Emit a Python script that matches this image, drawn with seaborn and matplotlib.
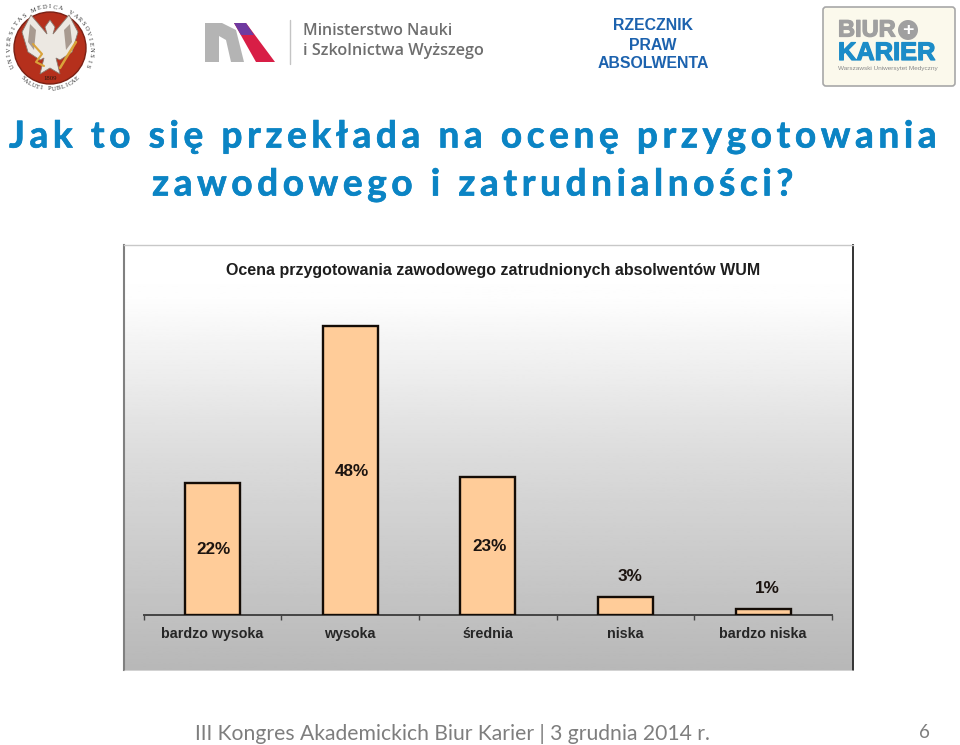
import numpy as np
import matplotlib
matplotlib.use("Agg")
import matplotlib.pyplot as plt
import matplotlib.patheffects as pe
from matplotlib.patches import Circle, Polygon, FancyBboxPatch
import seaborn as sns

categories = ["bardzo wysoka", "wysoka", "średnia", "niska", "bardzo niska"]
values = [22, 48, 23, 3, 1]
chart_title = "Ocena przygotowania zawodowego zatrudnionych absolwentów WUM"
title_lines = ["Jak to się przekłada na ocenę przygotowania", "zawodowego i zatrudnialności?"]
footer = "III Kongres Akademickich Biur Karier | 3 grudnia 2014 r."
page_no = "6"

W, H = 960, 745
sns.set_theme(style="white")
plt.rcParams["font.family"] = ["Liberation Sans", "DejaVu Sans"]
fig = plt.figure(figsize=(W / 100, H / 100), dpi=100, facecolor="white")

def px_axes(x0, y0, x1, y1, **kw):
    return fig.add_axes([x0 / W, 1 - y1 / H, (x1 - x0) / W, (y1 - y0) / H], **kw)

def heavy(w, col):
    return [pe.withStroke(linewidth=w, foreground=col)]

# page overlay in pixel coordinates
pg = fig.add_axes([0, 0, 1, 1], zorder=0)
pg.set_xlim(0, W); pg.set_ylim(H, 0); pg.axis("off")

# gradient panel
panel = px_axes(124, 245, 853, 670, zorder=1)
grad = np.interp(np.linspace(0, 1, 256), [0, 0.12, 0.5, 1], [1.0, 0.995, 0.86, 0.72])
panel.imshow(grad[:, None], cmap="gray", vmin=0, vmax=1, aspect="auto")
panel.set_xticks([]); panel.set_yticks([])
for side, col, lw in [("left", "#808080", 1.5), ("right", "#333333", 1.4),
                      ("top", "#c8c8c8", 1), ("bottom", "#c0c0c0", 0.5)]:
    panel.spines[side].set_visible(True)
    panel.spines[side].set_color(col)
    panel.spines[side].set_linewidth(lw)

# bar chart
ax = px_axes(143.5, 314, 832, 615, zorder=2)
ax.patch.set_alpha(0)
sns.barplot(x=categories, y=values, color="#FFCC99", saturation=1, width=0.4,
            edgecolor="#140c06", linewidth=1.7, ax=ax, zorder=3)
ax.set_xlim(-0.5, 4.5)
ax.set_ylim(0, 50)
ax.set_yticks([])
ax.set_xlabel(""); ax.set_ylabel("")
for s in ["top", "left", "right"]:
    ax.spines[s].set_visible(False)
ax.spines["bottom"].set_color("#444444")
ax.spines["bottom"].set_linewidth(1.4)
ax.set_xticks(range(len(categories)))
ax.set_xticklabels(categories, fontsize=10.3, fontweight="bold", color="#262626")
ax.set_xticks(np.arange(-0.5, 5), minor=True)
ax.tick_params(axis="x", which="major", length=0, pad=8.5)
ax.tick_params(axis="x", which="minor", length=3.5, width=1, color="#444444", direction="out", bottom=True)
for i, v in enumerate(values):
    if v > 5:
        ax.annotate(f"{v}%", (i, v / 2), ha="center", va="center", xytext=(1, -0.5),
                    textcoords="offset points", fontsize=12.3, fontweight="bold", color="#1c1410")
    else:
        ax.annotate(f"{v}%", (i, v), ha="center", va="bottom", xytext=(3, 9.5),
                    textcoords="offset points", fontsize=12.3, fontweight="bold", color="#1c1410")
pg2 = fig.add_axes([0, 0, 1, 1], zorder=3)
pg2.set_xlim(0, W); pg2.set_ylim(H, 0); pg2.axis("off"); pg2.patch.set_alpha(0)
pg2.text(493.5, 270.5, chart_title, ha="center", va="center", fontsize=11.5, fontweight="bold", color="#1e1e1e")

# slide title, letter-spaced
BLUE = "#0b84c4"
HAIR = "\u200a"
for line, x, y in [(title_lines[0], 473.5 - 4, 137), (title_lines[1], 472.5 - 2, 185)]:
    spaced = (HAIR + HAIR).join(line)
    pg.text(x, y, spaced, ha="center", va="center", fontsize=26.6, fontweight="bold", color=BLUE,
            family=["Lato", "DejaVu Sans"], path_effects=heavy(0.5, BLUE))

# footer
pg.text(195, 733.5, footer, ha="left", va="center", fontsize=15.2, color="#7e7e7e", family=["Lato", "DejaVu Sans"])
pg.text(924, 732, page_no, ha="center", va="center", fontsize=13.5, color="#7e7e7e", family=["Lato", "DejaVu Sans"])

# university seal
cx, cy = 50, 48
pg.add_patch(Circle((cx, cy), 36, fc="#b5301c", ec="#7a2014", lw=1))
def ring(txt, a0, a1, r, flip=False):
    for ch, a in zip(txt, np.linspace(a0, a1, len(txt))):
        t = np.deg2rad(a)
        pg.text(cx + r * np.cos(t), cy - r * np.sin(t), ch, fontsize=4.6, ha="center", va="center",
                rotation=(a + 90) if flip else (a - 90), color="#2e2e2e",
                family="Liberation Serif")
ring("UNIVERSITAS MEDICA VARSOVIENSIS", 205, -25, 41)
ring("SALUTI PUBLICAE", 228, 312, 41, flip=True)
pg.add_patch(Polygon([(50, 20), (55, 27), (53, 34), (69, 15), (78, 32), (72, 52), (60, 60), (56, 58),
                      (60, 74), (50, 68), (40, 74), (44, 58), (40, 60), (28, 52), (22, 32), (31, 15),
                      (47, 34), (45, 27)], fc="#ece8e2", ec="#8a7a70", lw=0.6))
pg.add_patch(Polygon([(30, 24), (36, 30), (34, 50), (28, 42)], fc="#a89a90", ec="none"))
pg.add_patch(Polygon([(70, 24), (64, 30), (66, 50), (72, 42)], fc="#a89a90", ec="none"))
pg.plot([33, 42, 36, 44], [44, 54, 62, 66], color="#d9a33a", lw=1.5)
pg.plot([76, 66, 60], [42, 58, 68], color="#d9a33a", lw=1.8)
pg.text(cx, 78, "1809", fontsize=4.8, ha="center", va="center", color="#2a1a10", family="Liberation Serif")

# ministry logo
pg.add_patch(Polygon([(205, 23), (222, 23), (236, 30), (244, 62), (231, 62), (226, 40), (219, 36), (219, 62), (205, 62)],
                     fc="#b4b4b4", ec="none"))
pg.add_patch(Polygon([(234, 23), (246, 23), (275, 62), (256, 62)], fc="#d81e46", ec="none"))
pg.add_patch(Polygon([(234, 23), (246, 23), (254, 35), (241, 35)], fc="#6f3aa0", ec="none"))
pg.plot([290, 290], [20, 64], color="#c4c4c4", lw=1)
pg.text(303, 31, "Ministerstwo Nauki", fontsize=11.4, fontweight="semibold", color="#6e6e6e", va="center",
        family=["Open Sans", "DejaVu Sans"])
pg.text(303, 51, "i Szkolnictwa Wyższego", fontsize=11.7, fontweight="semibold", color="#6e6e6e", va="center",
        family=["Open Sans", "DejaVu Sans"])

# advocate text
for t, y in [("RZECZNIK", 25.5), ("PRAW", 45), ("ABSOLWENTA", 64)]:
    pg.text(653, y, t, ha="center", va="center", fontsize=11.4, fontweight="bold", color="#1c62ae")

# career office badge
pg.add_patch(FancyBboxPatch((825, 9), 128, 75, boxstyle="round,pad=2,rounding_size=3", fc="#fbf9ec", ec="#a8a8a8", lw=1.2))
pg.text(838, 30, "BIUR", fontsize=17, fontweight="bold", color="#a0a0a0", va="center", path_effects=heavy(0.9, "#a0a0a0"))
pg.add_patch(Circle((908, 30), 10, fc="#a0a0a0", ec="none"))
pg.text(908, 30, "+", fontsize=14, fontweight="bold", color="white", ha="center", va="center")
pg.text(838, 53, "KARIER", fontsize=18.3, fontweight="bold", color="#1c8cc8", va="center", path_effects=heavy(0.9, "#1c8cc8"))
pg.text(838.5, 68.5, "Warszawski Uniwersytet Medyczny", fontsize=4.6, color="#8a8a8a", va="center")

fig.savefig("out.png", dpi=100, facecolor="white")
